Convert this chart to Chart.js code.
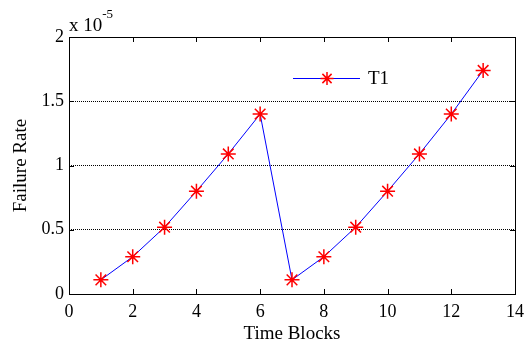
<!DOCTYPE html>
<html><head><meta charset="utf-8">
<script src="https://cdn.jsdelivr.net/npm/chart.js@4"></script>
<style>html,body{margin:0;padding:0;background:#fff}#wrap{width:531px;height:342px}</style>
</head><body><div id="wrap"><canvas id="c" width="531" height="342"></canvas></div>
<script>
const timeBlocks = [1,2,3,4,5,6,7,8,9,10,11,12,13];
const failureRateT1 = [0.11,0.29,0.52,0.80,1.09,1.40,0.11,0.29,0.52,0.80,1.09,1.40,1.74];
const xTicks = [0,2,4,6,8,10,12,14];
const yTicks = [0,0.5,1,1.5,2];
const seriesName = 'T1';
const FONT = '"Liberation Serif", "Times New Roman", serif';

const boxPlugin = {
  id: 'box',
  afterDraw(chart) {
    const {ctx, chartArea: a, scales} = chart;
    ctx.save();
    ctx.strokeStyle = '#000'; ctx.lineWidth = 1; ctx.setLineDash([]);
    ctx.strokeRect(Math.round(a.left)+0.5, Math.round(a.top)+0.5, Math.round(a.right-a.left), Math.round(a.bottom-a.top));
    ctx.beginPath();
    xTicks.forEach(v => {
      const x = Math.round(scales.x.getPixelForValue(v)) + 0.5;
      ctx.moveTo(x, a.bottom); ctx.lineTo(x, a.bottom - 5);
      ctx.moveTo(x, a.top); ctx.lineTo(x, a.top + 5);
    });
    yTicks.forEach(v => {
      const y = Math.round(scales.y.getPixelForValue(v)) + 0.5;
      ctx.moveTo(a.left, y); ctx.lineTo(a.left + 5, y);
      ctx.moveTo(a.right, y); ctx.lineTo(a.right - 5, y);
    });
    ctx.stroke();
    // exponent label
    ctx.fillStyle = '#000';
    ctx.textBaseline = 'alphabetic'; ctx.textAlign = 'left';
    ctx.font = '19px ' + FONT;
    ctx.fillText('x 10', a.left + 0, a.top - 6);
    const w = ctx.measureText('x 10').width;
    ctx.font = '13px ' + FONT;
    ctx.fillText('-5', a.left + w, a.top - 19);
    // legend
    const ly = 78.5;
    ctx.strokeStyle = 'blue'; ctx.lineWidth = 1;
    ctx.beginPath(); ctx.moveTo(293, ly); ctx.lineTo(360, ly); ctx.stroke();
    drawStar(ctx, 327, ly, 6.5);
    ctx.fillStyle = '#000'; ctx.font = '19px ' + FONT; ctx.textBaseline = 'middle';
    ctx.fillText(seriesName, 368, ly + 1);
    ctx.restore();
  }
};
function drawStar(ctx, x, y, r) {
  ctx.save(); ctx.strokeStyle = 'red'; ctx.lineWidth = 1.5; ctx.beginPath();
  for (let i = 0; i < 4; i++) {
    const ang = i * Math.PI / 4;
    ctx.moveTo(x - r * Math.sin(ang), y - r * Math.cos(ang));
    ctx.lineTo(x + r * Math.sin(ang), y + r * Math.cos(ang));
  }
  ctx.stroke(); ctx.restore();
}

new Chart(document.getElementById('c'), {
  type: 'line',
  data: {
    datasets: [{
      label: seriesName,
      data: timeBlocks.map((t, i) => ({x: t, y: failureRateT1[i]})),
      borderColor: 'blue', borderWidth: 1,
      pointStyle: 'star', pointRadius: 7.5, pointBorderColor: 'red', pointBackgroundColor: 'red',
      pointBorderWidth: 1.5, pointHoverRadius: 7.5, tension: 0
    }]
  },
  options: {
    responsive: false, animation: false, devicePixelRatio: 1,
    layout: {padding: {left: 0, right: 9, top: 37, bottom: 0}},
    plugins: {legend: {display: false}, tooltip: {enabled: false}},
    scales: {
      x: {
        type: 'linear', min: 0, max: 14,
        afterBuildTicks: s => { s.ticks = xTicks.map(v => ({value: v})); },
        afterFit: s => { s.height = 48; },
        grid: {display: false, drawTicks: false},
        border: {display: false},
        ticks: {color: '#000', font: {family: FONT, size: 18}, padding: 7, maxRotation: 0},
        title: {display: true, text: 'Time Blocks', color: '#000', font: {family: FONT, size: 19}, padding: {top: 0, bottom: -3}}
      },
      y: {
        min: 0, max: 2,
        afterBuildTicks: s => { s.ticks = yTicks.map(v => ({value: v})); },
        afterFit: s => { s.width = 69; },
        grid: {color: '#000', lineWidth: 1, drawTicks: false},
        border: {display: false, dash: [1, 1]},
        ticks: {color: '#000', font: {family: FONT, size: 18}, padding: 5, callback: v => String(v)},
        title: {display: true, text: 'Failure Rate', color: '#000', font: {family: FONT, size: 19}, padding: {top: 10, bottom: 4}}
      }
    }
  },
  plugins: [boxPlugin]
});
</script></body></html>
